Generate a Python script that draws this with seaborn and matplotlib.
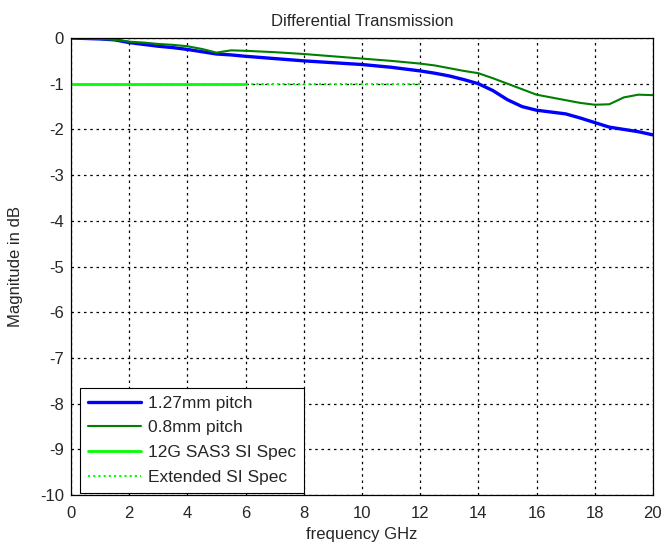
import matplotlib
matplotlib.use("Agg")
import matplotlib.pyplot as plt
import seaborn as sns
import pandas as pd

freq = [0, 0.5, 1, 1.5, 2, 2.5, 3, 3.5, 4, 4.5, 5, 5.5, 6, 7, 8, 9, 10, 11, 12,
        12.5, 13, 13.5, 14, 14.5, 15, 15.5, 16, 16.5, 17, 17.5, 18, 18.5, 19, 19.5, 20]
pitch_127 = [0, -0.01, -0.02, -0.04, -0.1, -0.14, -0.18, -0.21, -0.25, -0.3, -0.35, -0.37,
             -0.4, -0.45, -0.5, -0.54, -0.58, -0.64, -0.72, -0.77, -0.83, -0.91, -1.0,
             -1.15, -1.35, -1.5, -1.58, -1.62, -1.66, -1.75, -1.85, -1.95, -2.0, -2.05, -2.12]
pitch_08 = [0, -0.01, -0.02, -0.04, -0.08, -0.1, -0.13, -0.15, -0.18, -0.24, -0.32, -0.27,
            -0.28, -0.31, -0.35, -0.4, -0.45, -0.5, -0.56, -0.6, -0.66, -0.72, -0.77,
            -0.88, -1.0, -1.12, -1.24, -1.3, -1.36, -1.42, -1.46, -1.45, -1.3, -1.24, -1.25]
spec_freq = [0, 6]
spec_val = [-1, -1]
ext_freq = [6, 12]
ext_val = [-1, -1]

labels = ["1.27mm pitch", "0.8mm pitch", "12G SAS3 SI Spec", "Extended SI Spec"]
xticks = list(range(0, 21, 2))
yticks = list(range(0, -11, -1))

sns.set_style("white")
plt.rcParams['font.family'] = ['Liberation Sans', 'DejaVu Sans']

fig = plt.figure(figsize=(6.65, 5.43), dpi=100)
ax = fig.add_axes([0.1068, 0.0884, 0.875, 0.8416])

df1 = pd.DataFrame({"f": freq, "v": pitch_127})
df2 = pd.DataFrame({"f": freq, "v": pitch_08})
df3 = pd.DataFrame({"f": spec_freq, "v": spec_val})
df4 = pd.DataFrame({"f": ext_freq, "v": ext_val})

sns.lineplot(data=df1, x="f", y="v", ax=ax, color="#0000ff", linewidth=2.4, label=labels[0])
sns.lineplot(data=df2, x="f", y="v", ax=ax, color="#008000", linewidth=1.5, label=labels[1])
sns.lineplot(data=df3, x="f", y="v", ax=ax, color="#00ff00", linewidth=2.0, label=labels[2])
sns.lineplot(data=df4, x="f", y="v", ax=ax, color="#00ff00", linewidth=1.5,
             linestyle=(0, (1, 1.5)), label=labels[3])

ax.set_xlim(0, 20)
ax.set_ylim(-10, 0)
ax.set_xticks(xticks)
ax.set_yticks(yticks)
ax.set_xticklabels([str(t) for t in xticks], fontsize=12)
ax.set_yticklabels([str(t) for t in yticks], fontsize=12)
ax.tick_params(direction="in", length=4, width=0.8)
ax.tick_params(axis="x", pad=8)
ax.tick_params(axis="y", pad=5)
ax.grid(True, color="black", linestyle=(0, (2, 3)), linewidth=0.9)
for s in ax.spines.values():
    s.set_color("black")
    s.set_linewidth(0.9)

ax.set_title("Differential Transmission", fontsize=12, pad=9)
ax.set_xlabel("frequency GHz", fontsize=12, labelpad=4)
ax.set_ylabel("Magnitude in dB", fontsize=12, labelpad=12)

leg = ax.legend(loc="lower left", bbox_to_anchor=(0.015, 0.005), borderaxespad=0,
                fancybox=False, framealpha=1, edgecolor="black", fontsize=12.5,
                handlelength=3.1, handletextpad=0.4, labelspacing=0.55, borderpad=0.45)
leg.get_frame().set_linewidth(0.8)

fig.savefig("out.png", dpi=100)
